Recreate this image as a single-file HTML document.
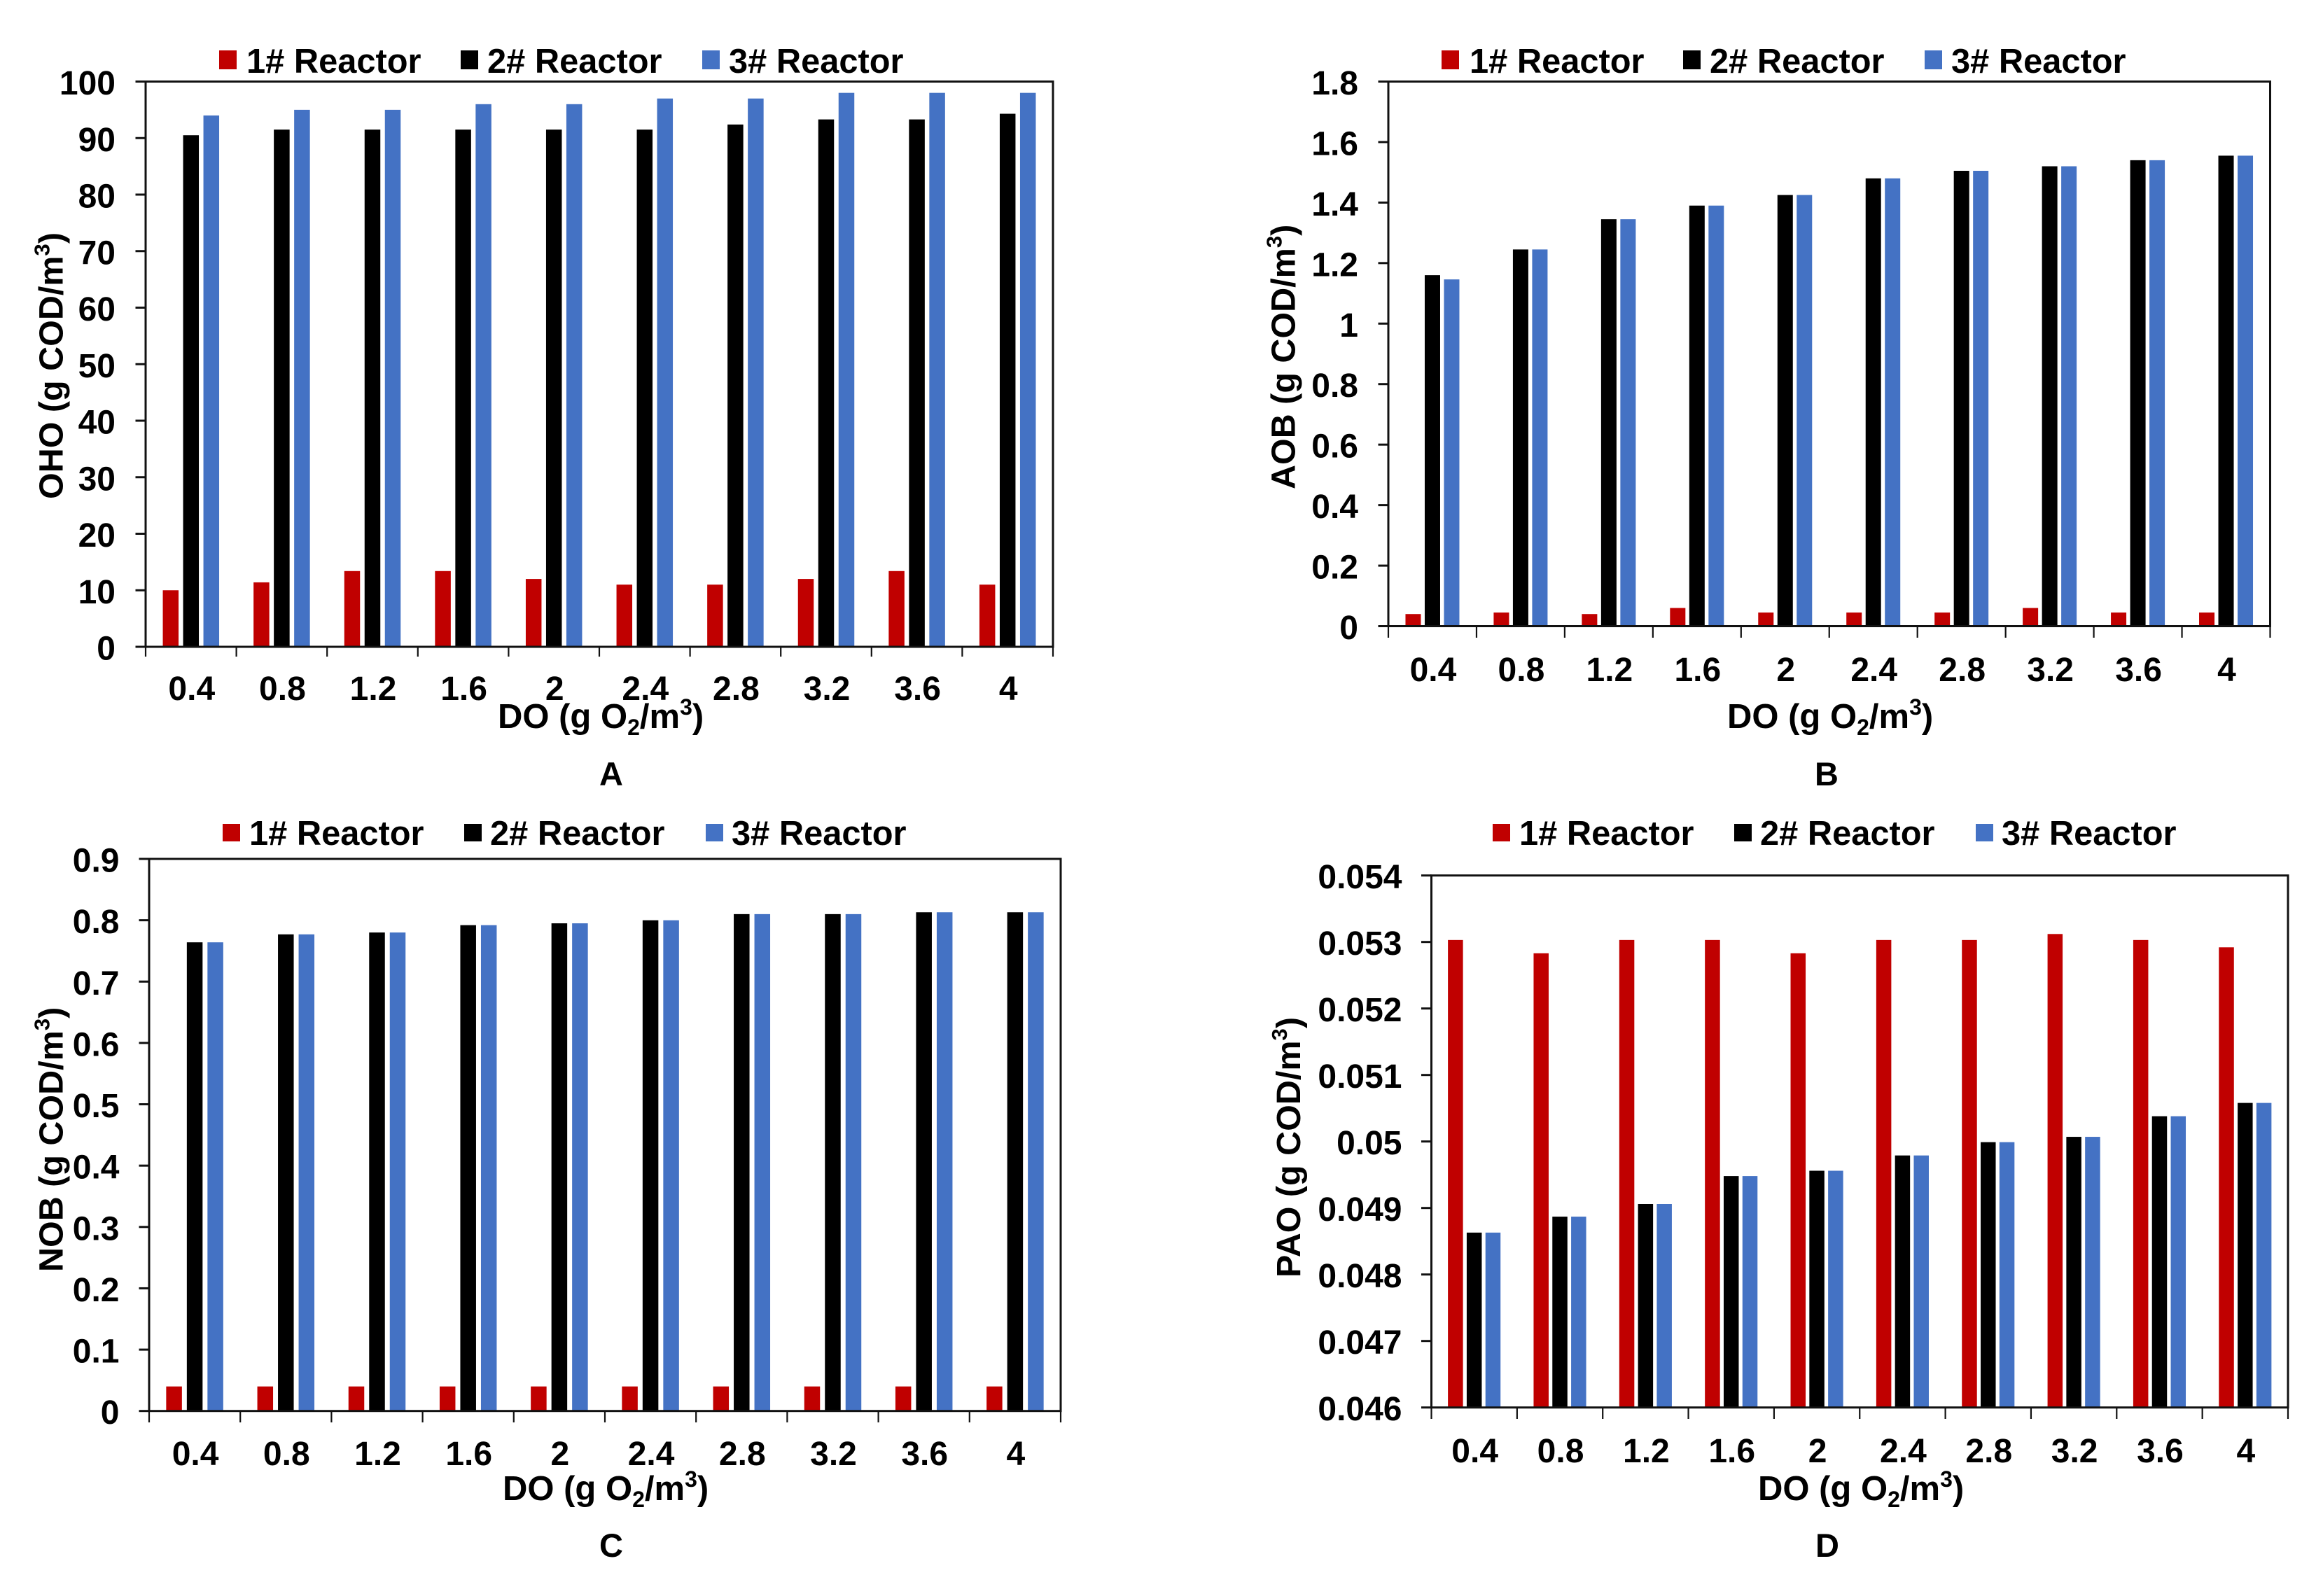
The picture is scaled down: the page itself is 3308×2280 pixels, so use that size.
<!DOCTYPE html>
<html lang="en">
<head>
<meta charset="utf-8">
<title>Biomass versus DO in reactors</title>
<style>
html,body{margin:0;padding:0;background:#fff;}
svg{display:block;}
text{font-family:"Liberation Sans",Arial,sans-serif;font-weight:bold;fill:#000;}
</style>
</head>
<body>
<svg id="figure" xmlns="http://www.w3.org/2000/svg" width="3308" height="2280" viewBox="0 0 3308 2280">
<rect x="0" y="0" width="3308" height="2280" fill="#ffffff"/>

<g id="panel-a">
  <g>
    <rect x="313" y="72" width="25" height="27" fill="#C00000"/>
    <text x="352" y="104" font-size="48.8">1# Reactor</text>
    <rect x="658" y="72" width="25" height="27" fill="#000000"/>
    <text x="696" y="104" font-size="48.8">2# Reactor</text>
    <rect x="1003" y="72" width="25" height="27" fill="#4472C4"/>
    <text x="1041" y="104" font-size="48.8">3# Reactor</text>
  </g>
  <text transform="translate(89.5,713) rotate(-90) scale(1.01,1)" font-size="48">OHO (g COD/m<tspan font-size="31" dy="-19">3</tspan><tspan dy="19">)</tspan></text>
  <text x="711" y="1040" font-size="49">DO (g O<tspan font-size="32" dy="10">2</tspan><tspan dy="-10">/m</tspan><tspan font-size="32" dy="-19">3</tspan><tspan dy="19">)</tspan></text>
  <text x="873" y="1122" font-size="47" text-anchor="middle">A</text>
</g>

<g id="panel-b">
  <g>
    <rect x="2059" y="72" width="25" height="27" fill="#C00000"/>
    <text x="2099" y="104" font-size="48.8">1# Reactor</text>
    <rect x="2404" y="72" width="25" height="27" fill="#000000"/>
    <text x="2442" y="104" font-size="48.8">2# Reactor</text>
    <rect x="2749" y="72" width="25" height="27" fill="#4472C4"/>
    <text x="2787" y="104" font-size="48.8">3# Reactor</text>
  </g>
  <text transform="translate(1849.5,699) rotate(-90) scale(1.01,1)" font-size="48">AOB (g COD/m<tspan font-size="31" dy="-19">3</tspan><tspan dy="19">)</tspan></text>
  <text x="2467" y="1040" font-size="49">DO (g O<tspan font-size="32" dy="10">2</tspan><tspan dy="-10">/m</tspan><tspan font-size="32" dy="-19">3</tspan><tspan dy="19">)</tspan></text>
  <text x="2609" y="1122" font-size="47" text-anchor="middle">B</text>
</g>

<g id="panel-c">
  <g>
    <rect x="318" y="1177" width="25" height="25" fill="#C00000"/>
    <text x="356" y="1207" font-size="48.8">1# Reactor</text>
    <rect x="663" y="1177" width="25" height="25" fill="#000000"/>
    <text x="700" y="1207" font-size="48.8">2# Reactor</text>
    <rect x="1008" y="1177" width="25" height="25" fill="#4472C4"/>
    <text x="1045" y="1207" font-size="48.8">3# Reactor</text>
  </g>
  <text transform="translate(89.5,1817) rotate(-90) scale(1.01,1)" font-size="48">NOB (g COD/m<tspan font-size="31" dy="-19">3</tspan><tspan dy="19">)</tspan></text>
  <text x="718" y="2143" font-size="49">DO (g O<tspan font-size="32" dy="10">2</tspan><tspan dy="-10">/m</tspan><tspan font-size="32" dy="-19">3</tspan><tspan dy="19">)</tspan></text>
  <text x="873" y="2224" font-size="47" text-anchor="middle">C</text>
</g>

<g id="panel-d">
  <g>
    <rect x="2132" y="1177" width="25" height="25" fill="#C00000"/>
    <text x="2170" y="1207" font-size="48.8">1# Reactor</text>
    <rect x="2477" y="1177" width="25" height="25" fill="#000000"/>
    <text x="2514" y="1207" font-size="48.8">2# Reactor</text>
    <rect x="2822" y="1177" width="25" height="25" fill="#4472C4"/>
    <text x="2859" y="1207" font-size="48.8">3# Reactor</text>
  </g>
  <text transform="translate(1857,1825) rotate(-90) scale(1.01,1)" font-size="48">PAO (g COD/m<tspan font-size="31" dy="-19">3</tspan><tspan dy="19">)</tspan></text>
  <text x="2511" y="2143" font-size="49">DO (g O<tspan font-size="32" dy="10">2</tspan><tspan dy="-10">/m</tspan><tspan font-size="32" dy="-19">3</tspan><tspan dy="19">)</tspan></text>
  <text x="2610" y="2224" font-size="47" text-anchor="middle">D</text>
</g>
</svg>

<script>
var doCategories = ['0.4','0.8','1.2','1.6','2','2.4','2.8','3.2','3.6','4'];

var ohoTicks = ['0','10','20','30','40','50','60','70','80','90','100'];
var ohoReactor1 = [10, 11.4, 13.4, 13.4, 12, 11, 11, 12, 13.4, 11];
var ohoReactor2 = [90.5, 91.5, 91.5, 91.5, 91.5, 91.5, 92.4, 93.3, 93.3, 94.3];
var ohoReactor3 = [94, 95, 95, 96, 96, 97, 97, 98, 98, 98];

var aobTicks = ['0','0.2','0.4','0.6','0.8','1','1.2','1.4','1.6','1.8'];
var aobReactor1 = [0.04, 0.045, 0.04, 0.06, 0.045, 0.045, 0.045, 0.06, 0.045, 0.045];
var aobReactor2 = [1.16, 1.245, 1.345, 1.39, 1.425, 1.48, 1.505, 1.52, 1.54, 1.555];
var aobReactor3 = [1.146, 1.245, 1.345, 1.39, 1.425, 1.48, 1.505, 1.52, 1.54, 1.555];

var nobTicks = ['0','0.1','0.2','0.3','0.4','0.5','0.6','0.7','0.8','0.9'];
var nobReactor1 = [0.04, 0.04, 0.04, 0.04, 0.04, 0.04, 0.04, 0.04, 0.04, 0.04];
var nobReactor2 = [0.764, 0.777, 0.78, 0.792, 0.795, 0.8, 0.81, 0.81, 0.813, 0.813];
var nobReactor3 = [0.764, 0.777, 0.78, 0.792, 0.795, 0.8, 0.81, 0.81, 0.813, 0.813];

var paoTicks = ['0.046','0.047','0.048','0.049','0.05','0.051','0.052','0.053','0.054'];
var paoReactor1 = [0.05303, 0.05283, 0.05303, 0.05303, 0.05283, 0.05303, 0.05303, 0.05312, 0.05303, 0.05292];
var paoReactor2 = [0.04863, 0.04887, 0.04906, 0.04948, 0.04956, 0.04979, 0.04999, 0.05007, 0.05038, 0.05058];
var paoReactor3 = [0.04863, 0.04887, 0.04906, 0.04948, 0.04956, 0.04979, 0.04999, 0.05007, 0.05038, 0.05058];

var seriesColors = ['#C00000', '#000000', '#4472C4'];
var seriesNames = ['reactor-1', 'reactor-2', 'reactor-3'];
var SVG_NS = 'http://www.w3.org/2000/svg';

function make(parent, tag, attrs) {
  var el = document.createElementNS(SVG_NS, tag);
  Object.keys(attrs).forEach(function (k) { el.setAttribute(k, attrs[k]); });
  parent.appendChild(el);
  return el;
}

function drawPanel(id, cats, ticks, series, frame) {
  var root = document.getElementById(id);
  var yMin = parseFloat(ticks[0]);
  var yMax = parseFloat(ticks[ticks.length - 1]);
  var yScale = function (v) {
    return frame.bottom - (v - yMin) / (yMax - yMin) * (frame.bottom - frame.top);
  };
  var catWidth = (frame.right - frame.left) / cats.length;
  var xCenter = function (i) { return frame.left + catWidth * (i + 0.5); };

  series.forEach(function (values, s) {
    values.forEach(function (v, i) {
      var cx = xCenter(i) + (s - 1) * frame.barStep;
      var y = yScale(v);
      var bar = make(root, 'rect', {
        x: cx - frame.barWidth / 2,
        y: y,
        width: frame.barWidth,
        height: frame.bottom - y,
        fill: seriesColors[s]
      });
      
      
    });
  });

  ticks.forEach(function (label) {
    var y = yScale(parseFloat(label));
    var tick = make(root, 'line', {
      x1: frame.left - 14.5, x2: frame.left, y1: y, y2: y,
      stroke: '#111', 'stroke-width': 3
    });
    
    
    var t = make(root, 'text', {
      x: frame.labelRight, y: y + 18.5, 'font-size': 48, 'text-anchor': 'end'
    });
    t.textContent = label;
    
    
  });

  for (var k = 0; k <= cats.length; k++) {
    var tx = frame.left + catWidth * k;
    var xt = make(root, 'line', {
      x1: tx, x2: tx, y1: frame.bottom, y2: frame.tickBottom,
      stroke: '#111', 'stroke-width': 2.2
    });
    
    
  }

  cats.forEach(function (label, i) {
    var t = make(root, 'text', {
      x: xCenter(i) + 1, y: frame.xLabelBase, 'font-size': 48, 'text-anchor': 'middle'
    });
    t.textContent = label;
    
    
  });

  var box = make(root, 'rect', {
    x: frame.left, y: frame.top,
    width: frame.right - frame.left, height: frame.bottom - frame.top,
    fill: 'none', stroke: '#111', 'stroke-width': 3
  });
  
  
}

drawPanel('panel-a', doCategories, ohoTicks, [ohoReactor1, ohoReactor2, ohoReactor3],
  {left: 208, right: 1504, top: 116.5, bottom: 924, tickBottom: 938, labelRight: 165, xLabelBase: 1000, barWidth: 22.5, barStep: 29});
drawPanel('panel-b', doCategories, aobTicks, [aobReactor1, aobReactor2, aobReactor3],
  {left: 1983, right: 3242.5, top: 116.5, bottom: 894.5, tickBottom: 911, labelRight: 1940, xLabelBase: 973, barWidth: 22, barStep: 27.5});
drawPanel('panel-c', doCategories, nobTicks, [nobReactor1, nobReactor2, nobReactor3],
  {left: 213, right: 1515, top: 1227, bottom: 2015.7, tickBottom: 2032, labelRight: 170.5, xLabelBase: 2093, barWidth: 22.5, barStep: 29.5});
drawPanel('panel-d', doCategories, paoTicks, [paoReactor1, paoReactor2, paoReactor3],
  {left: 2044.5, right: 3268, top: 1250.7, bottom: 2010.7, tickBottom: 2027, labelRight: 2002.5, xLabelBase: 2089, barWidth: 21.5, barStep: 26.8});
</script>
</body>
</html>
